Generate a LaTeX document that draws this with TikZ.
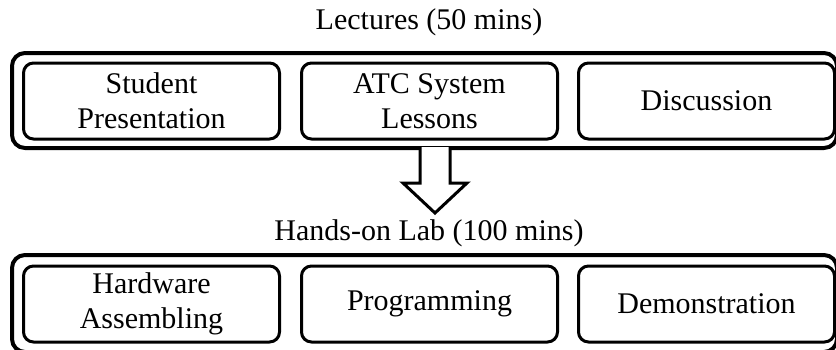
\documentclass[tikz,border=0pt]{standalone}
\usepackage{fontspec}
\setmainfont{Liberation Serif}
\begin{document}
\begin{tikzpicture}[x=1pt,y=-1pt,
  outerbox/.style={draw,line width=4pt,rounded corners=13pt},
  innerbox/.style={draw,line width=3pt,rounded corners=10pt,minimum width=256pt,minimum height=76pt,inner sep=0pt,align=center,font=\fontsize{30}{35}\selectfont},
  title/.style={font=\fontsize{30}{35}\selectfont,inner sep=0pt}]
\useasboundingbox (0,0) rectangle (836,349);
% top group
\draw[outerbox] (12,53) rectangle (837,148);
\node[title] (lec) at (429,22) {Lectures (50 mins)};
\node[innerbox] (sp) at (151.5,101) {Student\\Presentation};
\node[innerbox] (atc) at (429.5,101) {ATC System\\Lessons};
\node[innerbox] (disc) at (706.5,101) {Discussion};
% arrow
\draw[line width=3pt,fill=white,line join=miter] (420,147) -- (420,183) -- (403,183) -- (435,213) -- (467,183) -- (450,183) -- (450,147);
% bottom group
\node[title] (lab) at (429,233) {Hands-on Lab (100 mins)};
\draw[outerbox] (12,255) rectangle (837,352);
\node[innerbox] (hw) at (151.5,304) {Hardware\\Assembling};
\node[innerbox] (prog) at (429.5,304) {Programming};
\node[innerbox] (demo) at (706.5,304) {Demonstration};
\end{tikzpicture}
\end{document}
